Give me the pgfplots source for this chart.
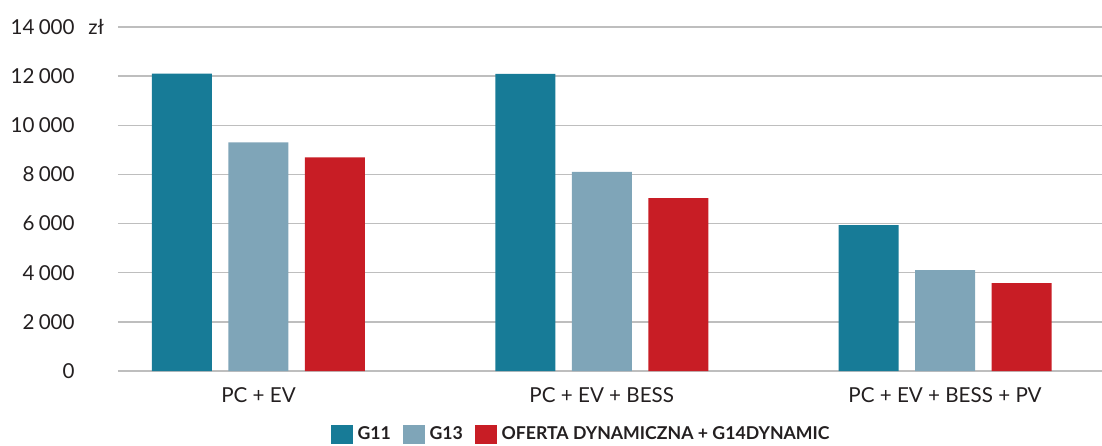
\documentclass[border=0pt]{standalone}
\usepackage{fontspec}
\setmainfont{Lato}
\usepackage{pgfplots}
\pgfplotsset{compat=1.18}
\definecolor{cA}{RGB}{23,123,151}
\definecolor{cB}{RGB}{127,165,184}
\definecolor{cC}{RGB}{200,29,37}
\definecolor{gridc}{RGB}{190,190,190}
\definecolor{txt}{RGB}{35,31,32}
\begin{document}
\begin{tikzpicture}
\begin{axis}[
  at={(0,0)}, anchor=south west,
  scale only axis, width=492pt, height=172pt,
  xmin=-0.4093, xmax=2.4574, ymin=0, ymax=14000,
  axis line style={draw=none},
  major tick length=0pt,
  ymajorgrids, grid style={gridc, line width=0.75pt},
  ytick={0,2000,4000,6000,8000,10000,12000,14000},
  xtick={0,1,2},
  xticklabels={PC + EV, PC + EV + BESS, PC + EV + BESS + PV},
  scaled y ticks=false,
  /pgf/number format/.cd, 1000 sep={\kern0.2em}, assume math mode=true, /pgfplots/.cd,
  tick label style={font=\fontsize{10.3}{12}\selectfont, text=txt},
  yticklabel style={anchor=east, inner sep=0pt, xshift=-21.5pt},
  xticklabel style={anchor=north, inner sep=0pt, yshift=-8.3pt},
  ybar, bar width=30pt,
  legend columns=3,
  legend style={at={(0,0)}, anchor=west, xshift=106.5pt, yshift=-31.75pt,
    draw=none, fill=none, inner sep=0pt, outer sep=0pt,
    font=\fontsize{8.85}{11}\selectfont\bfseries, text=txt,
    nodes={inner sep=0pt},
    column sep=2.5pt,
    /tikz/every even column/.append style={column sep=6pt}},
  legend image code/.code={\fill[#1] (0pt,-4.9pt) rectangle (10.8pt,4.9pt);},
]
\addplot[fill=cA, draw=none, bar shift=-38.25pt] coordinates {(0,12100) (1,12090) (2,5940)};
\addplot[fill=cB, draw=none, bar shift=0pt] coordinates {(0,9300) (1,8100) (2,4110)};
\addplot[fill=cC, draw=none, bar shift=38.25pt] coordinates {(0,8690) (1,7040) (2,3580)};
\legend{G11, G13, OFERTA DYNAMICZNA + G14DYNAMIC}
\end{axis}
\node[anchor=west, inner sep=0pt, font=\fontsize{10.3}{12}\selectfont, text=txt] at (-15pt,172pt) {zł};
\pgfresetboundingbox
\path (-59pt,-37pt) rectangle (492pt,185.5pt);
\end{tikzpicture}
\end{document}
